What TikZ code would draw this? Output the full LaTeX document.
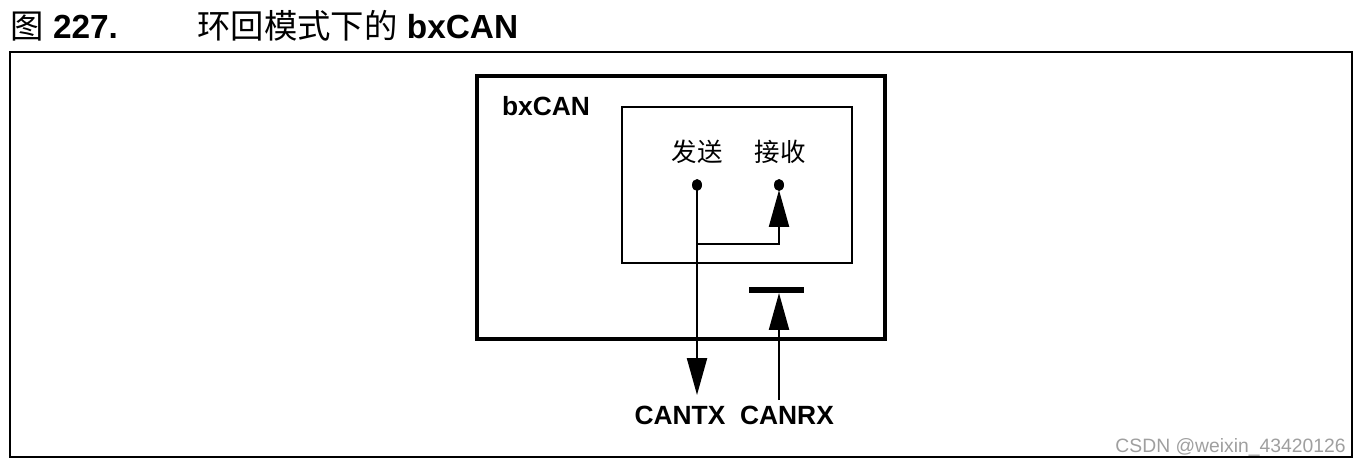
\documentclass[tikz,border=0pt]{standalone}
\usepackage{fontspec}
\setmainfont{Liberation Sans}
\newfontfamily\cjk{Noto Sans CJK SC}
\usetikzlibrary{arrows.meta}
\usetikzlibrary{positioning}

\begin{document}
\begin{tikzpicture}[x=0.02cm,y=-0.02cm,
  every node/.style={inner sep=0pt},
  frame/.style={draw,line width=1.2pt,minimum width=26.84cm,minimum height=8.1cm},
  chip/.style={draw,line width=2.3pt,minimum width=8.16cm,minimum height=5.26cm},
  loopbox/.style={draw,line width=0.9pt,minimum width=4.6cm,minimum height=3.12cm},
  lbl/.style={font=\fontsize{15}{15}\selectfont\bfseries},
  zh/.style={font=\fontsize{14.5}{15}\selectfont\cjk},
  ttl/.style={anchor=base west,font=\fontsize{19}{19}\selectfont},
  sig/.style={line width=1.3pt,-{Triangle[length=0.74cm,width=0.4cm]}}]
\useasboundingbox (0,0) rectangle (1361,466);
% title
\node[ttl] (fig) at (10,39) {{\cjk 图} \textbf{227.}};
\node[ttl] (cap) at (197,39) {{\cjk 环回模式下的} \textbf{bxCAN}};
% boxes
\node[frame] (outer) at (681,254.5) {};
\node[chip] (bxcan) at (681,207.5) {};
\node[lbl] (name) at (546,106) {bxCAN};
\node[loopbox] (core) at (737,185) {};
\node[zh] (send) at (697,152) {发送};
\node[zh] (recv) at (780,152) {接收};
% pins
\coordinate (tx) at (697,185);
\coordinate (rx) at (779,185);
\coordinate (rxin) at (779,190);
\coordinate (j) at (697,244);
\coordinate (txpin) at (697,395);
\coordinate (rxpin) at (779,400);
\coordinate (barl) at (749,290);
\coordinate (barr) at (804,290);
\coordinate (bar) at (779,293);
\fill (tx) ellipse[x radius=5,y radius=6];
\fill (rx) ellipse[x radius=5,y radius=6];
\draw[sig] (tx) -- (txpin);
\draw[sig] (j) -| (rxin);
\draw[line width=3.4pt] (barl) -- (barr);
\draw[sig] (rxpin) -- (bar);
\node[lbl] (cantx) at (680,415) {CANTX};
\node[lbl] (canrx) at (787,415) {CANRX};
\node[anchor=base east,text=gray!75,font=\fontsize{11}{11}\selectfont] (mark) at (1346,452) {CSDN @weixin\_43420126};
\end{tikzpicture}
\end{document}
